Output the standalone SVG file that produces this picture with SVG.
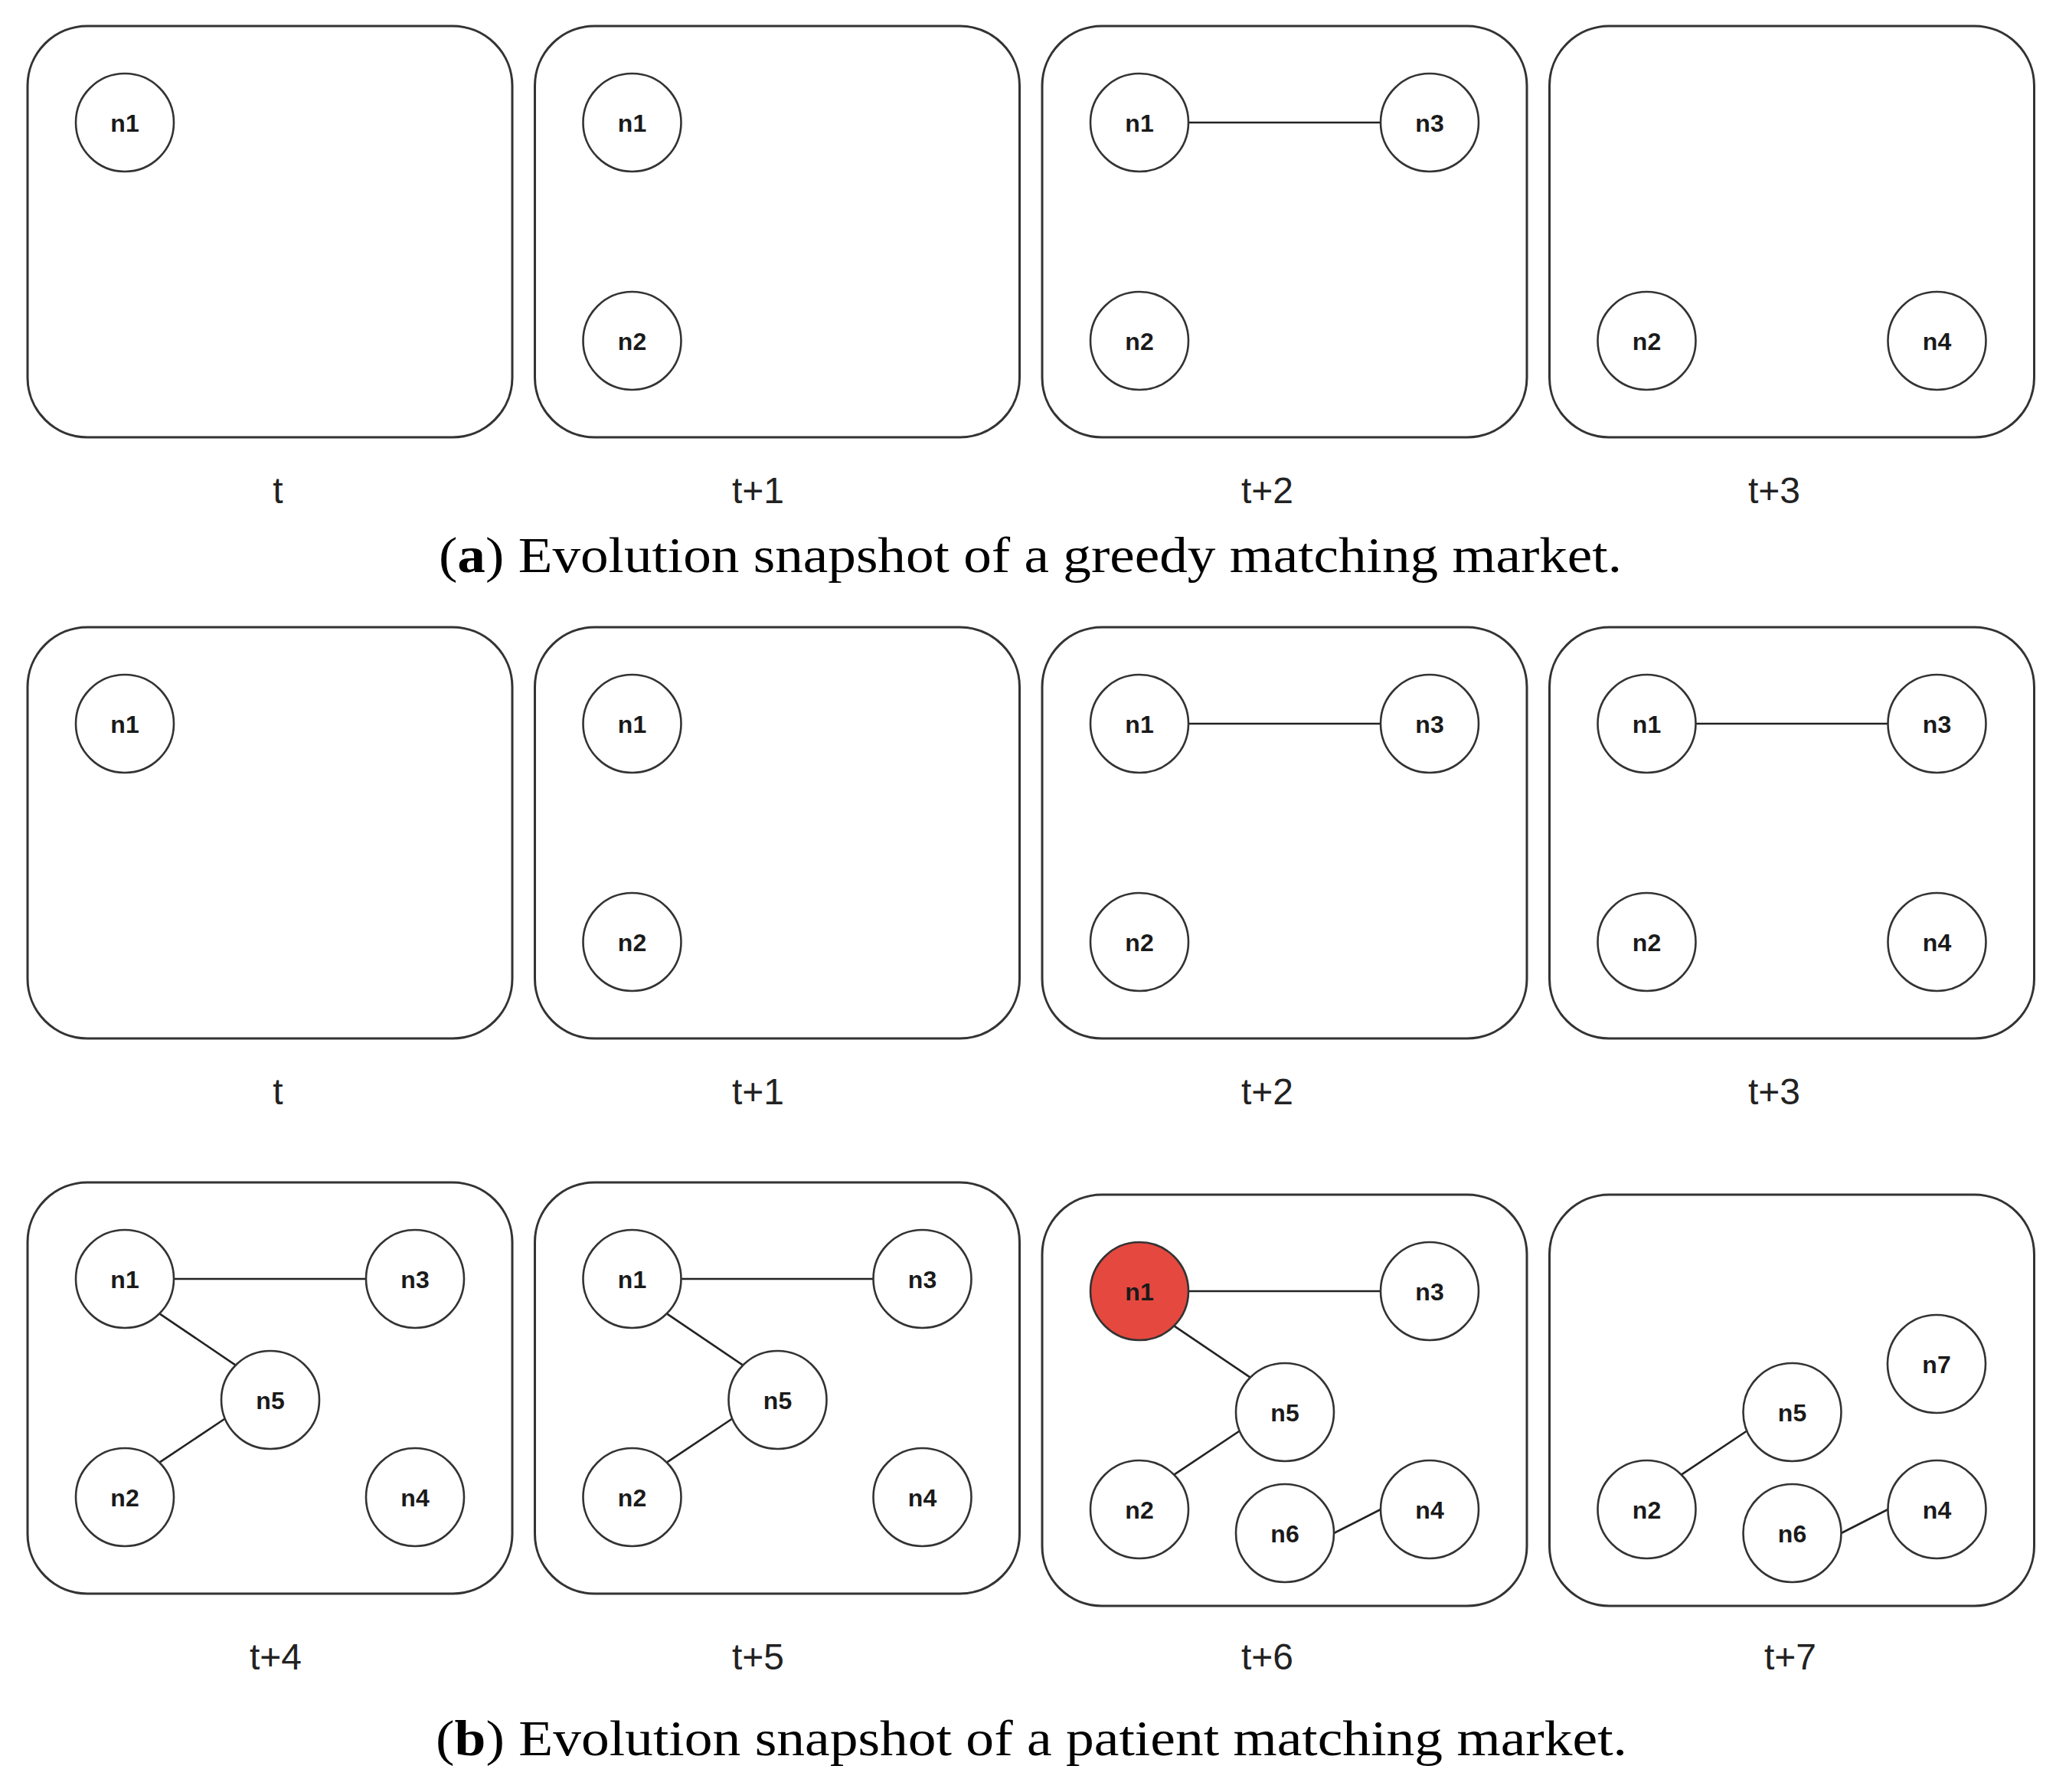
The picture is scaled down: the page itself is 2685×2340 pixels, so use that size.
<svg xmlns="http://www.w3.org/2000/svg" width="2685" height="2340" viewBox="0 0 2685 2340">
<style>
.panel{fill:#fff;stroke:#333;stroke-width:3}
.node{fill:#fff;stroke:#333;stroke-width:2.6}
.red{fill:#E5483F}
.nl{font-family:"Liberation Sans",Arial,sans-serif;font-size:32px;font-weight:bold;fill:#1a1a1a;text-anchor:middle}
.tl{font-family:"Liberation Sans",Arial,sans-serif;font-size:48px;fill:#222;text-anchor:middle}
.cap{font-family:"Liberation Serif","Times New Roman",serif;font-size:65px;fill:#000}
.edge{stroke:#222;stroke-width:2.6;fill:none}
</style>
<rect width="2685" height="2340" fill="#fff"/>
<g id="panels">
<rect id="a-t" class="panel" x="36" y="34" width="633" height="537" rx="78"/>
<rect id="a-t1" class="panel" x="698.5" y="34" width="633" height="537" rx="78"/>
<rect id="a-t2" class="panel" x="1361" y="34" width="633" height="537" rx="78"/>
<rect id="a-t3" class="panel" x="2023.5" y="34" width="633" height="537" rx="78"/>
<rect id="b-t" class="panel" x="36" y="819" width="633" height="537" rx="78"/>
<rect id="b-t1" class="panel" x="698.5" y="819" width="633" height="537" rx="78"/>
<rect id="b-t2" class="panel" x="1361" y="819" width="633" height="537" rx="78"/>
<rect id="b-t3" class="panel" x="2023.5" y="819" width="633" height="537" rx="78"/>
<rect id="b-t4" class="panel" x="36" y="1544" width="633" height="537" rx="78"/>
<rect id="b-t5" class="panel" x="698.5" y="1544" width="633" height="537" rx="78"/>
<rect id="b-t6" class="panel" x="1361" y="1560" width="633" height="537" rx="78"/>
<rect id="b-t7" class="panel" x="2023.5" y="1560" width="633" height="537" rx="78"/>
</g>
<g id="connectors">
<line class="edge" x1="1552" y1="160" x2="1803" y2="160"/>
<line class="edge" x1="1552" y1="945" x2="1803" y2="945"/>
<line class="edge" x1="2214.5" y1="945" x2="2465.5" y2="945"/>
<line class="edge" x1="227" y1="1670" x2="478" y2="1670"/>
<line class="edge" x1="208.3" y1="1715.3" x2="307.7" y2="1782.7"/>
<line class="edge" x1="208.3" y1="1909.7" x2="293.8" y2="1852.5"/>
<line class="edge" x1="889.5" y1="1670" x2="1140.5" y2="1670"/>
<line class="edge" x1="870.8" y1="1715.3" x2="970.2" y2="1782.7"/>
<line class="edge" x1="870.8" y1="1909.7" x2="956.3" y2="1852.5"/>
<line class="edge" x1="1552" y1="1686" x2="1803" y2="1686"/>
<line class="edge" x1="1533.3" y1="1731.3" x2="1632.7" y2="1798.7"/>
<line class="edge" x1="1533.3" y1="1925.7" x2="1618.8" y2="1868.5"/>
<line class="edge" x1="1742" y1="2002" x2="1803" y2="1971"/>
<line class="edge" x1="2195.8" y1="1925.7" x2="2281.3" y2="1868.5"/>
<line class="edge" x1="2404.5" y1="2002" x2="2465.5" y2="1971"/>
</g>
<g id="nodes">
<g id="a-t-n1"><circle class="node" cx="163" cy="160" r="64"/><text class="nl" x="163" y="172">n1</text></g>
<g id="a-t1-n1"><circle class="node" cx="825.5" cy="160" r="64"/><text class="nl" x="825.5" y="172">n1</text></g>
<g id="a-t1-n2"><circle class="node" cx="825.5" cy="445" r="64"/><text class="nl" x="825.5" y="457">n2</text></g>
<g id="a-t2-n1"><circle class="node" cx="1488" cy="160" r="64"/><text class="nl" x="1488" y="172">n1</text></g>
<g id="a-t2-n3"><circle class="node" cx="1867" cy="160" r="64"/><text class="nl" x="1867" y="172">n3</text></g>
<g id="a-t2-n2"><circle class="node" cx="1488" cy="445" r="64"/><text class="nl" x="1488" y="457">n2</text></g>
<g id="a-t3-n2"><circle class="node" cx="2150.5" cy="445" r="64"/><text class="nl" x="2150.5" y="457">n2</text></g>
<g id="a-t3-n4"><circle class="node" cx="2529.5" cy="445" r="64"/><text class="nl" x="2529.5" y="457">n4</text></g>

<g id="b-t-n1"><circle class="node" cx="163" cy="945" r="64"/><text class="nl" x="163" y="957">n1</text></g>
<g id="b-t1-n1"><circle class="node" cx="825.5" cy="945" r="64"/><text class="nl" x="825.5" y="957">n1</text></g>
<g id="b-t1-n2"><circle class="node" cx="825.5" cy="1230" r="64"/><text class="nl" x="825.5" y="1242">n2</text></g>
<g id="b-t2-n1"><circle class="node" cx="1488" cy="945" r="64"/><text class="nl" x="1488" y="957">n1</text></g>
<g id="b-t2-n3"><circle class="node" cx="1867" cy="945" r="64"/><text class="nl" x="1867" y="957">n3</text></g>
<g id="b-t2-n2"><circle class="node" cx="1488" cy="1230" r="64"/><text class="nl" x="1488" y="1242">n2</text></g>
<g id="b-t3-n1"><circle class="node" cx="2150.5" cy="945" r="64"/><text class="nl" x="2150.5" y="957">n1</text></g>
<g id="b-t3-n3"><circle class="node" cx="2529.5" cy="945" r="64"/><text class="nl" x="2529.5" y="957">n3</text></g>
<g id="b-t3-n2"><circle class="node" cx="2150.5" cy="1230" r="64"/><text class="nl" x="2150.5" y="1242">n2</text></g>
<g id="b-t3-n4"><circle class="node" cx="2529.5" cy="1230" r="64"/><text class="nl" x="2529.5" y="1242">n4</text></g>

<g id="b-t4-n1"><circle class="node" cx="163" cy="1670" r="64"/><text class="nl" x="163" y="1682">n1</text></g>
<g id="b-t4-n3"><circle class="node" cx="542" cy="1670" r="64"/><text class="nl" x="542" y="1682">n3</text></g>
<g id="b-t4-n5"><circle class="node" cx="353" cy="1828" r="64"/><text class="nl" x="353" y="1840">n5</text></g>
<g id="b-t4-n2"><circle class="node" cx="163" cy="1955" r="64"/><text class="nl" x="163" y="1967">n2</text></g>
<g id="b-t4-n4"><circle class="node" cx="542" cy="1955" r="64"/><text class="nl" x="542" y="1967">n4</text></g>

<g id="b-t5-n1"><circle class="node" cx="825.5" cy="1670" r="64"/><text class="nl" x="825.5" y="1682">n1</text></g>
<g id="b-t5-n3"><circle class="node" cx="1204.5" cy="1670" r="64"/><text class="nl" x="1204.5" y="1682">n3</text></g>
<g id="b-t5-n5"><circle class="node" cx="1015.5" cy="1828" r="64"/><text class="nl" x="1015.5" y="1840">n5</text></g>
<g id="b-t5-n2"><circle class="node" cx="825.5" cy="1955" r="64"/><text class="nl" x="825.5" y="1967">n2</text></g>
<g id="b-t5-n4"><circle class="node" cx="1204.5" cy="1955" r="64"/><text class="nl" x="1204.5" y="1967">n4</text></g>

<g id="b-t6-n1"><circle class="node red" cx="1488" cy="1686" r="64"/><text class="nl" x="1488" y="1698">n1</text></g>
<g id="b-t6-n3"><circle class="node" cx="1867" cy="1686" r="64"/><text class="nl" x="1867" y="1698">n3</text></g>
<g id="b-t6-n5"><circle class="node" cx="1678" cy="1844" r="64"/><text class="nl" x="1678" y="1856">n5</text></g>
<g id="b-t6-n2"><circle class="node" cx="1488" cy="1971" r="64"/><text class="nl" x="1488" y="1983">n2</text></g>
<g id="b-t6-n6"><circle class="node" cx="1678" cy="2002" r="64"/><text class="nl" x="1678" y="2014">n6</text></g>
<g id="b-t6-n4"><circle class="node" cx="1867" cy="1971" r="64"/><text class="nl" x="1867" y="1983">n4</text></g>

<g id="b-t7-n7"><circle class="node" cx="2529" cy="1781" r="64"/><text class="nl" x="2529" y="1793">n7</text></g>
<g id="b-t7-n5"><circle class="node" cx="2340.5" cy="1844" r="64"/><text class="nl" x="2340.5" y="1856">n5</text></g>
<g id="b-t7-n2"><circle class="node" cx="2150.5" cy="1971" r="64"/><text class="nl" x="2150.5" y="1983">n2</text></g>
<g id="b-t7-n6"><circle class="node" cx="2340.5" cy="2002" r="64"/><text class="nl" x="2340.5" y="2014">n6</text></g>
<g id="b-t7-n4"><circle class="node" cx="2529.5" cy="1971" r="64"/><text class="nl" x="2529.5" y="1983">n4</text></g>
</g>
<g id="labels">
<text class="tl" x="363" y="657">t</text>
<text class="tl" x="990" y="657">t+1</text>
<text class="tl" x="1655" y="657">t+2</text>
<text class="tl" x="2317" y="657">t+3</text>
<text class="tl" x="363" y="1442">t</text>
<text class="tl" x="990" y="1442">t+1</text>
<text class="tl" x="1655" y="1442">t+2</text>
<text class="tl" x="2317" y="1442">t+3</text>
<text class="tl" x="360" y="2180">t+4</text>
<text class="tl" x="990" y="2180">t+5</text>
<text class="tl" x="1655" y="2180">t+6</text>
<text class="tl" x="2338" y="2180">t+7</text>
<text class="cap" x="573" y="747" textLength="1545" lengthAdjust="spacingAndGlyphs">(<tspan font-weight="bold">a</tspan>) Evolution snapshot of a greedy matching market.</text>
<text class="cap" x="569" y="2292" textLength="1556" lengthAdjust="spacingAndGlyphs">(<tspan font-weight="bold">b</tspan>) Evolution snapshot of a patient matching market.</text>
</g>
</svg>
